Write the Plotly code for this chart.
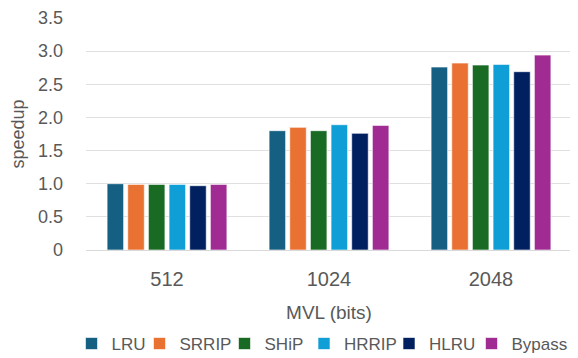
import plotly.graph_objects as go

categories = ["512", "1024", "2048"]
series_names = ["LRU", "SRRIP", "SHiP", "HRRIP", "HLRU", "Bypass"]
lru = [1.00, 1.80, 2.76]
srrip = [0.99, 1.85, 2.82]
ship = [0.99, 1.80, 2.79]
hrrip = [0.99, 1.89, 2.80]
hlru = [0.97, 1.76, 2.69]
bypass = [0.99, 1.88, 2.94]
colors = ["#156082", "#E97132", "#196B24", "#0F9ED5", "#002060", "#A02B93"]
ytick_vals = [0, 0.5, 1.0, 1.5, 2.0, 2.5, 3.0, 3.5]
ytick_text = ["0", "0.5", "1.0", "1.5", "2.0", "2.5", "3.0", "3.5"]

values = [lru, srrip, ship, hrrip, hlru, bypass]
FONT = "Liberation Sans, Arial, sans-serif"

# horizontal placement of each legend entry (paper fraction), one legend per series
legend_x = [-0.0298, 0.1101, 0.2850, 0.4486, 0.6235, 0.7932]

fig = go.Figure()
legend_layout = {}
for i, (name, vals, col) in enumerate(zip(series_names, values, colors)):
    key = "legend" if i == 0 else f"legend{i + 1}"
    fig.add_trace(go.Bar(
        x=categories, y=vals, name=name, legend=key,
        marker=dict(color=col, line=dict(color="rgba(255,255,255,0.6)", width=1)),
    ))
    legend_layout[key] = dict(
        orientation="h", x=legend_x[i], xanchor="left", y=-0.405, yanchor="middle",
        font=dict(size=17, color="#595959", family=FONT), itemwidth=30,
        bgcolor="rgba(0,0,0,0)",
    )

# page body adds an 8px offset; figure coordinates are shifted to compensate
fig.update_layout(
    width=578, height=358,
    margin=dict(l=78, r=14, t=10, b=116, autoexpand=False),
    paper_bgcolor="white", plot_bgcolor="white",
    barmode="group", bargap=0.235, bargroupgap=0.2,
    font=dict(family=FONT, color="#595959", size=18),
    showlegend=True,
    xaxis=dict(type="category", showgrid=False, showline=True, linecolor="#d9d9d9",
               ticks="", ticklabelstandoff=11, tickfont=dict(size=20),
               title=dict(text="MVL (bits)", font=dict(size=19), standoff=16)),
    yaxis=dict(range=[0, 3.5], tickvals=ytick_vals, ticktext=ytick_text,
               showgrid=True, gridcolor="#e0e0e0", zeroline=False, showline=False,
               ticks="", ticklabelstandoff=22, tickfont=dict(size=18),
               ticklabeloverflow="allow",
               title=dict(text="speedup", font=dict(size=18), standoff=9)),
    **legend_layout,
)

fig.write_html("out.html")
